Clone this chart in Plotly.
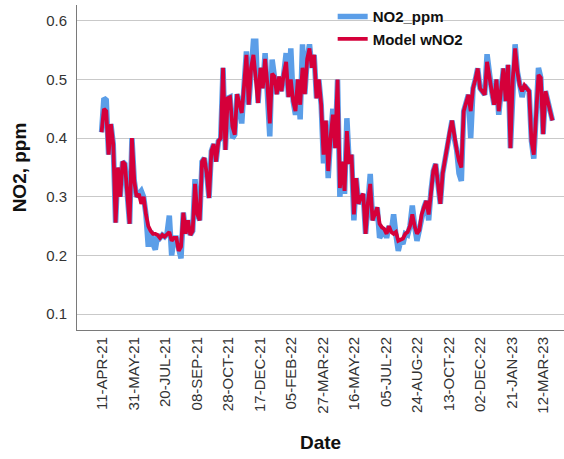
import pandas as pd
import plotly.graph_objects as go

# ---- data ----
start_date = "2021-04-10"
step = "89h"  # sampling interval of the read-off points

model_wno2 = [
    0.41, 0.45, 0.446, 0.372, 0.424, 0.39, 0.256, 0.35, 0.30, 0.36,
    0.356, 0.30, 0.254, 0.40, 0.327, 0.30, 0.305, 0.288, 0.30, 0.27,
    0.25, 0.242, 0.237, 0.237, 0.235, 0.23, 0.235, 0.232, 0.237, 0.24,
    0.225, 0.23, 0.23, 0.208, 0.215, 0.273, 0.237, 0.26, 0.235, 0.242,
    0.322, 0.27, 0.26, 0.36, 0.366, 0.34, 0.298, 0.378, 0.39, 0.36,
    0.395, 0.40, 0.52, 0.38, 0.468, 0.47, 0.42, 0.406, 0.475, 0.46,
    0.443, 0.49, 0.542, 0.457, 0.52, 0.542, 0.50, 0.46, 0.52, 0.485,
    0.535, 0.49, 0.425, 0.51, 0.505, 0.475, 0.505, 0.48, 0.51, 0.53,
    0.47, 0.50, 0.463, 0.446, 0.50, 0.457, 0.52, 0.475, 0.535, 0.553,
    0.52, 0.542, 0.468, 0.50, 0.457, 0.372, 0.43, 0.344, 0.40, 0.44,
    0.383, 0.50, 0.315, 0.36, 0.31, 0.412, 0.356, 0.372, 0.27, 0.332,
    0.288, 0.30, 0.305, 0.237, 0.29, 0.322, 0.26, 0.27, 0.282, 0.254,
    0.248, 0.245, 0.237, 0.25, 0.24, 0.237, 0.24, 0.225, 0.228, 0.229,
    0.237, 0.24, 0.25, 0.27, 0.25, 0.237, 0.243, 0.27, 0.282, 0.293,
    0.27, 0.31, 0.344, 0.356, 0.327, 0.288, 0.34, 0.366, 0.39, 0.41,
    0.43, 0.40, 0.38, 0.361, 0.35, 0.446, 0.46, 0.474, 0.446, 0.485,
    0.50, 0.519, 0.485, 0.48, 0.474, 0.53, 0.50, 0.48, 0.457, 0.50,
    0.446, 0.49, 0.519, 0.463, 0.525, 0.383, 0.50, 0.553, 0.513, 0.49,
    0.48, 0.49, 0.485, 0.48, 0.395, 0.372, 0.44, 0.508, 0.503, 0.407,
    0.48, 0.46, 0.446, 0.43,
]

no2_ppm = [
    0.41, 0.468, 0.465, 0.372, 0.424, 0.39, 0.256, 0.35, 0.30, 0.36,
    0.356, 0.30, 0.254, 0.40, 0.327, 0.30, 0.305, 0.31, 0.30, 0.27,
    0.215, 0.242, 0.22, 0.21, 0.235, 0.23, 0.235, 0.232, 0.237, 0.268,
    0.20, 0.23, 0.23, 0.208, 0.195, 0.273, 0.237, 0.26, 0.235, 0.242,
    0.33, 0.27, 0.26, 0.36, 0.366, 0.34, 0.298, 0.378, 0.39, 0.36,
    0.395, 0.40, 0.52, 0.38, 0.468, 0.47, 0.40, 0.406, 0.475, 0.46,
    0.425, 0.49, 0.548, 0.457, 0.52, 0.565, 0.565, 0.46, 0.52, 0.485,
    0.545, 0.49, 0.403, 0.534, 0.505, 0.475, 0.505, 0.48, 0.51, 0.545,
    0.47, 0.553, 0.463, 0.44, 0.50, 0.432, 0.56, 0.475, 0.535, 0.56,
    0.52, 0.542, 0.468, 0.50, 0.457, 0.357, 0.43, 0.332, 0.40, 0.45,
    0.383, 0.50, 0.30, 0.36, 0.305, 0.434, 0.356, 0.372, 0.26, 0.332,
    0.288, 0.30, 0.305, 0.237, 0.29, 0.339, 0.26, 0.27, 0.282, 0.23,
    0.24, 0.245, 0.23, 0.25, 0.24, 0.27, 0.235, 0.208, 0.225, 0.22,
    0.237, 0.235, 0.25, 0.285, 0.25, 0.225, 0.243, 0.27, 0.282, 0.293,
    0.26, 0.31, 0.344, 0.356, 0.327, 0.288, 0.34, 0.366, 0.39, 0.41,
    0.43, 0.40, 0.38, 0.34, 0.327, 0.446, 0.46, 0.474, 0.40, 0.485,
    0.50, 0.519, 0.485, 0.48, 0.474, 0.543, 0.50, 0.48, 0.457, 0.50,
    0.44, 0.49, 0.519, 0.463, 0.525, 0.383, 0.50, 0.56, 0.513, 0.49,
    0.47, 0.49, 0.485, 0.48, 0.395, 0.365, 0.44, 0.52, 0.503, 0.407,
    0.48, 0.46, 0.446, 0.43,
]

first_tick = "2021-04-11"
tick_every_days = 50
n_ticks = 15
y_ticks = [0.1, 0.2, 0.3, 0.4, 0.5, 0.6]

dates = pd.date_range(start_date, periods=len(model_wno2), freq=step)
tick_dates = pd.date_range(first_tick, periods=n_ticks, freq=f"{tick_every_days}D")
tick_text = [d.strftime("%d-%b-%y").upper() for d in tick_dates]

BLUE = "#5b9ee8"
RED = "#d5003a"
FONT = "Arial, Liberation Sans, sans-serif"

fig = go.Figure()
fig.add_trace(go.Scatter(x=dates, y=no2_ppm, mode="lines", name="NO2_ppm",
                         line=dict(color=BLUE, width=5.5)))
fig.add_trace(go.Scatter(x=dates, y=model_wno2, mode="lines", name="Model wNO2",
                         line=dict(color=RED, width=3.8)))

x0 = pd.Timestamp(first_tick) - pd.Timedelta(days=40)
x1 = pd.Timestamp(first_tick) + pd.Timedelta(days=733)

fig.update_layout(
    width=564, height=459,
    margin=dict(l=77, r=0, t=3, b=129),
    paper_bgcolor="white", plot_bgcolor="white",
    font=dict(family=FONT, color="#333333"),
    showlegend=True,
    legend=dict(x=0.525, y=1.015, xanchor="left", yanchor="top",
                bgcolor="rgba(0,0,0,0)", itemwidth=30,
                font=dict(size=15, color="#111111", family=FONT, weight="bold"),
                tracegroupgap=0),
    xaxis=dict(
        type="date", range=[x0, x1],
        tickmode="array", tickvals=tick_dates, ticktext=tick_text,
        tickangle=-90, tickfont=dict(size=15, color="#333333"),
        showgrid=False, zeroline=False,
        showline=True, linecolor="#7a7a7a", linewidth=1,
        ticks="", ticklen=0,
        title=dict(text="Date", standoff=22,
                   font=dict(size=19, color="#111111", family=FONT, weight="bold")),
    ),
    yaxis=dict(
        range=[0.073, 0.627],
        tickmode="array", tickvals=y_ticks, ticktext=[f"{v:.1f}" for v in y_ticks],
        tickfont=dict(size=15, color="#333333"),
        showgrid=True, gridcolor="#c9c9c9", gridwidth=1.3,
        zeroline=False, showline=True, linecolor="#7a7a7a", linewidth=1,
        ticks="", ticklabelstandoff=6,
        title=dict(text="NO2, ppm", standoff=14,
                   font=dict(size=19, color="#111111", family=FONT, weight="bold")),
    ),
)

fig.write_html("out.html")
